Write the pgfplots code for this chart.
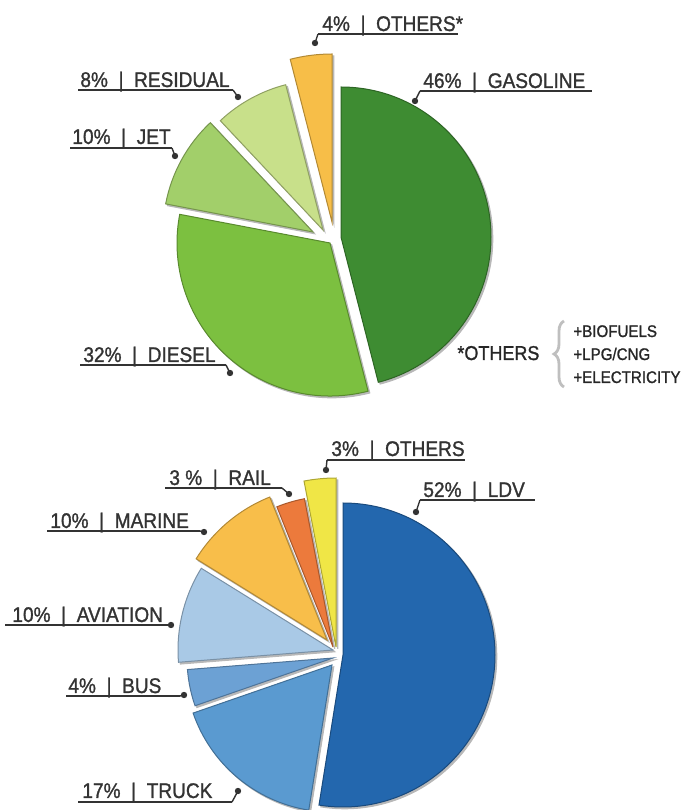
\documentclass[border=0pt]{standalone}
\usepackage{pgfplots}
\pgfplotsset{compat=1.18}
\usepackage{pgfplotstable}
\usepackage{fontspec}
\setmainfont{Liberation Sans}
\newfontfamily\labfam[FakeStretch=0.9, FakeBold=1.2]{Liberation Sans}
\usetikzlibrary{decorations.pathreplacing}

% fuels
\definecolor{top1}{HTML}{3E8C32}
\definecolor{top2}{HTML}{7CC040}
\definecolor{top3}{HTML}{A2CF6A}
\definecolor{top4}{HTML}{C8E08A}
\definecolor{top5}{HTML}{F7BE48}
% modes
\definecolor{bot1}{HTML}{2367AE}
\definecolor{bot2}{HTML}{5A9AD0}
\definecolor{bot3}{HTML}{6CA1D4}
\definecolor{bot4}{HTML}{A9C9E6}
\definecolor{bot5}{HTML}{F8BE4A}
\definecolor{bot6}{HTML}{EC7A3C}
\definecolor{bot7}{HTML}{F0E646}
\definecolor{labc}{HTML}{333333}

% slice apex position (px, y up), share, radius (px), colour index
\pgfplotstableread{
x   y   v  r   i
341 573 46 150 1
330 567 32 153 2
313 578 10 150 3
323 580 8  150 4
332 588 4  168 5
}\toppie
\pgfplotstableread{
x   y   v  r   i
343 155 52 152 1
332 145 17 147 2
333 152 4  146 3
333 160 10 155 4
327 170 10 154 5
333 163 3  151 6
336 163 3  169 7
}\botpie
\pgfplotstablecreatecol[create col/expr accum={\pgfmathaccuma + \thisrow{v}}{0}]{cum}\toppie
\pgfplotstablecreatecol[create col/expr accum={\pgfmathaccuma + \thisrow{v}}{0}]{cum}\botpie

\pgfdeclareplotmark{wedge}{%
  \pgfpathmoveto{\pgfpointorigin}%
  \pgfpathlineto{\pgfpointpolar{\sa}{\rr pt}}%
  \pgfpatharc{\sa}{\ea}{\rr pt}%
  \pgfpathclose
  \pgfusepathqfillstroke}

\pgfplotsset{
  pie/.style={scatter, only marks, mark=wedge,
    visualization depends on={90-#1*(\thisrow{cum}-\thisrow{v}) \as \sa},
    visualization depends on={90-#1*\thisrow{cum} \as \ea},
    visualization depends on={0.5*\thisrow{r} \as \rr},
    visualization depends on={\thisrow{i} \as \ii}},
  piefill/.style={
    scatter/@pre marker code/.code={\pgfmathtruncatemacro\ci{\ii}%
      \scope[fill=#1\ci, draw=#1\ci!72!black, line width=0.5pt]},
    scatter/@post marker code/.code={\endscope}},
  pieshadow/.style={
    scatter/@pre marker code/.code={\scope[fill=black!28, draw=black!28, line width=0.5pt, shift={(0.9pt,-0.9pt)}]},
    scatter/@post marker code/.code={\endscope}},
}

\newcommand\labfont{\labfam\fontsize{10.6}{12}\selectfont}
% text, text x, baseline y, underline x1, x2, underline y, leader x, dot x, dot y
\newcommand\callout[9]{%
  \node[anchor=base west, inner sep=0pt, text=labc, font=\labfont] at (axis cs:#2,#3) {#1};
  \draw[labc, line width=1pt] (axis cs:#4,#6) -- (axis cs:#5,#6);
  \draw[labc, line width=0.7pt] (axis cs:#7,#6) -- (axis cs:#8,#9);
  \fill[labc] (axis cs:#8,#9) circle[radius=1.6pt];
}
\newcommand\sep{\enspace|\enspace}

\begin{document}
\begin{tikzpicture}
\path[use as bounding box] (0,0) rectangle (344pt,405pt);
\begin{axis}[
  at={(0,0)}, anchor=south west,
  scale only axis, width=344pt, height=405pt,
  xmin=0, xmax=688, ymin=0, ymax=810,
  hide axis, clip=false,
]
  % fuels
  \addplot[pie=3.6, pieshadow] table[x=x, y=y] {\toppie};
  \addplot[pie=3.6, piefill=top] table[x=x, y=y] {\toppie};
  % modes (shares add up to 99)
  \addplot[pie=3.63636, pieshadow] table[x=x, y=y] {\botpie};
  \addplot[pie=3.63636, piefill=bot] table[x=x, y=y] {\botpie};

  \callout{4\%\sep OTHERS*}{322}{779}{318}{458}{776}{318}{315}{767}
  \callout{46\%\sep GASOLINE}{423}{722}{420}{592}{719}{420}{415}{709}
  \callout{8\%\sep RESIDUAL}{80}{723}{78}{233}{720}{233}{238}{713}
  \callout{10\%\sep JET}{72}{666}{70}{172}{662}{172}{175}{654}
  \callout{32\%\sep DIESEL}{83}{448}{80}{226}{445}{226}{230}{437}

  \node[anchor=base west, inner sep=0pt, text=black!85, font=\labfam\fontsize{10}{11}\selectfont] at (axis cs:457,450) {*OTHERS};
  \draw[black!25, line width=1.4pt, decorate, decoration={brace, amplitude=5pt}] (axis cs:564,423) -- (axis cs:564,489);
  \node[anchor=base west, inner sep=0pt, text=black!85, font=\labfam\fontsize{8.4}{9}\selectfont] at (axis cs:573,473) {+BIOFUELS};
  \node[anchor=base west, inner sep=0pt, text=black!85, font=\labfam\fontsize{8.4}{9}\selectfont] at (axis cs:573,450) {+LPG/CNG};
  \node[anchor=base west, inner sep=0pt, text=black!85, font=\labfam\fontsize{8.4}{9}\selectfont] at (axis cs:573,427) {+ELECTRICITY};

  \callout{3\%\sep OTHERS}{331}{354}{327}{465}{350}{327}{326}{340}
  \callout{3 \%\sep RAIL}{169}{325}{165}{282}{322}{282}{289}{316}
  \callout{52\%\sep LDV}{423}{313}{420}{535}{310}{420}{416}{298}
  \callout{10\%\sep MARINE}{50}{282}{47}{200}{279}{200}{204}{278}
  \callout{10\%\sep AVIATION}{12}{188}{5}{168}{185}{168}{171}{185}
  \callout{4\%\sep BUS}{68}{117}{66}{180}{114}{180}{184}{115}
  \callout{17\%\sep TRUCK}{82}{12}{78}{232}{8}{232}{238}{19}
\end{axis}
\end{tikzpicture}
\end{document}
